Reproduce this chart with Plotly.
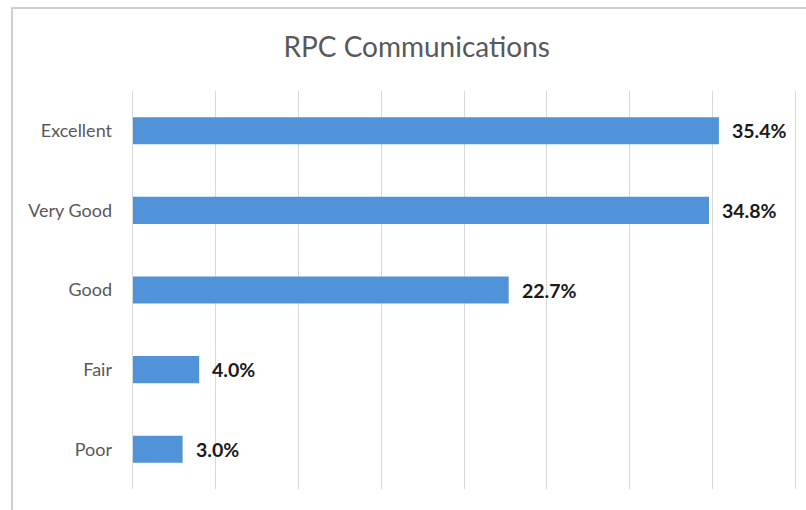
import plotly.graph_objects as go

# Survey ratings and share of responses (%)
categories = ["Excellent", "Very Good", "Good", "Fair", "Poor"]
shares = [35.4, 34.8, 22.7, 4.0, 3.0]
value_labels = ["35.4%", "34.8%", "22.7%", "4.0%", "3.0%"]

BAR_COLOR = "#5093d8"
TEXT_GRAY = "#595959"
GRID_GRAY = "#d9d9d9"
FONT = "Lato, 'Open Sans', sans-serif"

fig = go.Figure(
    go.Bar(
        x=shares,
        y=categories,
        orientation="h",
        marker=dict(color=BAR_COLOR, line=dict(width=0)),
        hoverinfo="skip",
    )
)

# value labels placed just past the end of each bar
for cat, val, lab in zip(categories, shares, value_labels):
    fig.add_annotation(
        x=val, y=cat, text=f"<b>{lab}</b>", showarrow=False,
        xanchor="left", yanchor="middle", xshift=11,
        font=dict(family=FONT, size=19.5, color="#1a1a1a"),
    )

# outer chart frame (left and top edges visible)
L, R, T, B = 128, 6, 91, 21
pw = 806 - L - R
ph = 510 - T - B
fig.add_shape(
    type="rect", xref="paper", yref="paper",
    x0=(12 - L) / pw, x1=1.2, y0=-0.2, y1=(510 - B - 8) / ph,
    line=dict(color="#bfbfbf", width=1.5), fillcolor="rgba(0,0,0,0)",
    layer="below",
)

fig.update_layout(
    width=806, height=510,
    margin=dict(l=L, r=R, t=T, b=B),
    paper_bgcolor="white", plot_bgcolor="white",
    bargap=0.66,
    showlegend=False,
    title=dict(
        text="RPC Communications",
        x=0.517, xanchor="center", xref="container",
        y=0.908, yanchor="middle", yref="container",
        font=dict(family=FONT, size=28, color=TEXT_GRAY),
    ),
    xaxis=dict(
        range=[-0.3, 40.3], dtick=5, tick0=0,
        showgrid=True, gridcolor=GRID_GRAY, gridwidth=1,
        zeroline=False, showline=False, showticklabels=False, ticks="",
        fixedrange=True,
    ),
    yaxis=dict(
        categoryorder="array", categoryarray=categories, autorange="reversed",
        showgrid=False, zeroline=False, showline=False, ticks="",
        ticklabelstandoff=15,
        tickfont=dict(family=FONT, size=18, color=TEXT_GRAY),
        fixedrange=True,
    ),
)

fig.write_html("out.html")
